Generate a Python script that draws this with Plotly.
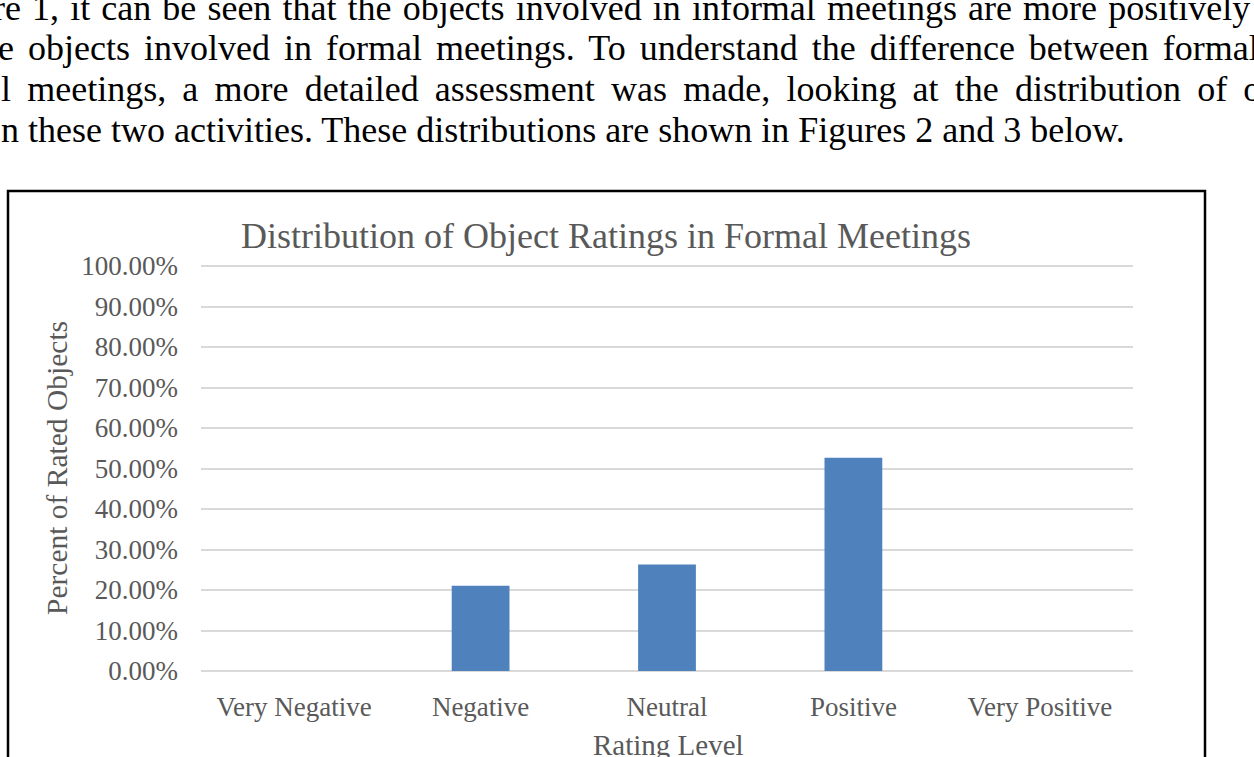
import plotly.graph_objects as go

# ---- data ----
categories = ["Very Negative", "Negative", "Neutral", "Positive", "Very Positive"]
percent_rated = [0.0, 0.2105, 0.2632, 0.5263, 0.0]
y_ticks = [0.0, 0.1, 0.2, 0.3, 0.4, 0.5, 0.6, 0.7, 0.8, 0.9, 1.0]

chart_title = "Distribution of Object Ratings in Formal Meetings"
x_title = "Rating Level"
y_title = "Percent of Rated Objects"

para_lines = [
    "re 1, it can be seen that the objects involved in informal meetings are more positively",
    "e objects involved in formal meetings. To understand the difference between formal",
    "l meetings, a more detailed assessment was made, looking at the distribution of o",
    "n these two activities. These distributions are shown in Figures 2 and 3 below.",
]

# ---- layout geometry (pixels) ----
W, H = 1254, 757
Y_TOP = 1.0025
L, R, B = 201, 1133, 671
T = 266 - round((Y_TOP - 1.0) * (671 - 266))


def px(x):
    return (x - L) / (R - L)


def py(y):
    return (B - y) / (B - T)


SERIF = "Liberation Serif, Times New Roman, serif"
GRAY = "#595959"

fig = go.Figure()
fig.add_trace(go.Bar(
    x=categories, y=percent_rated, width=0.31,
    marker=dict(color="#4f81bd", line=dict(width=0)),
    hoverinfo="skip",
))

annotations = []
# paragraph text above the chart
para_y = [8, 48, 89, 130]
para_x = [-9, -4, -1, -1]
para_ws = [2.1, 5.0, 7.2, 0]
for txt, yy, xx, ws in zip(para_lines, para_y, para_x, para_ws):
    annotations.append(dict(
        text=f'<span style="word-spacing:{ws}px">{txt}</span>',
        xref="paper", yref="paper", x=px(xx), y=py(yy),
        xanchor="left", yanchor="middle", showarrow=False,
        font=dict(family=SERIF, size=36, color="black"),
    ))

annotations.append(dict(
    text=chart_title, xref="paper", yref="paper", x=px(606), y=py(236),
    xanchor="center", yanchor="middle", showarrow=False,
    font=dict(family=SERIF, size=36, color=GRAY),
))
annotations.append(dict(
    text=x_title, xref="paper", yref="paper", x=px(668), y=py(745),
    xanchor="center", yanchor="middle", showarrow=False,
    font=dict(family=SERIF, size=29, color=GRAY),
))
annotations.append(dict(
    text=y_title, xref="paper", yref="paper", x=px(57), y=py(468),
    xanchor="center", yanchor="middle", showarrow=False, textangle=-90,
    font=dict(family=SERIF, size=29.5, color=GRAY),
))

fig.update_layout(
    width=W, height=H,
    margin=dict(l=L, r=W - R, t=T, b=H - B, pad=0),
    paper_bgcolor="white", plot_bgcolor="white",
    showlegend=False,
    bargap=0.69,
    annotations=annotations,
    shapes=[dict(
        type="rect", xref="paper", yref="paper",
        x0=px(8), x1=px(1205), y0=py(820), y1=py(191),
        line=dict(color="black", width=2.5), fillcolor="rgba(0,0,0,0)",
        layer="below",
    )],
    font=dict(family=SERIF, color=GRAY),
)
fig.update_xaxes(
    type="category", categoryorder="array", categoryarray=categories,
    showgrid=False, showline=False, zeroline=False, ticks="",
    tickfont=dict(family=SERIF, size=27, color=GRAY),
    ticklabelstandoff=17,
)
fig.update_yaxes(
    range=[0, Y_TOP], tickvals=y_ticks, tickformat=".2%",
    showgrid=True, gridcolor="#d9d9d9", gridwidth=2,
    zeroline=True, zerolinecolor="#d9d9d9", zerolinewidth=2,
    showline=False, ticks="",
    tickfont=dict(family=SERIF, size=27, color=GRAY),
    ticklabelstandoff=22,
)

fig.write_html(
    "out.html",
    config={"displayModeBar": False},
    post_script="document.body.style.margin='0';document.body.style.overflow='hidden';",
)
